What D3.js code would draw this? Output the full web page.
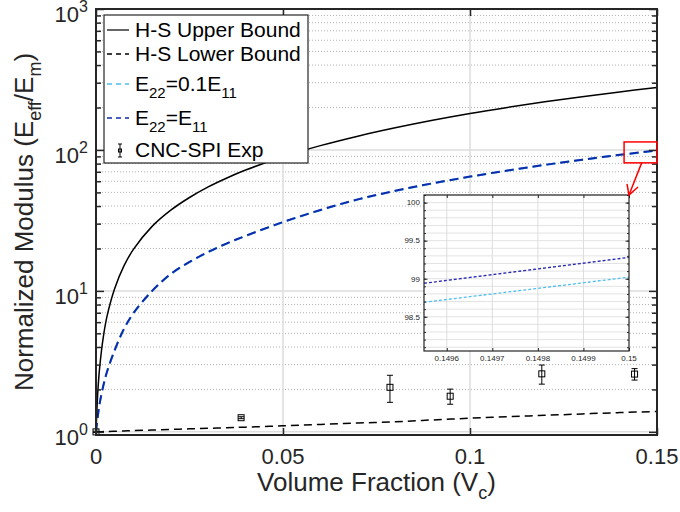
<!DOCTYPE html>
<html>
<head>
<meta charset="utf-8">
<script src="https://cdn.jsdelivr.net/npm/d3@7"></script>
<style>
  body { margin: 0; background: #fff; }
  svg { display: block; font-family: "Liberation Sans", Arial, sans-serif; }
</style>
</head>
<body>
<div id="chart"></div>
<script>
// model curves
const vcModel = [0, 0.0005, 0.001, 0.002, 0.003, 0.005, 0.0075, 0.01, 0.015, 0.02, 0.025, 0.03, 0.035, 0.04, 0.05, 0.06, 0.07, 0.08, 0.09, 0.10, 0.11, 0.12, 0.13, 0.14, 0.15];
const hsUpper = [1, 1.95, 2.9, 4.8, 6.7, 10.4, 15.1, 19.7, 28.7, 37.4, 46.0, 54.7, 63.3, 72.0, 89.5, 107.3, 125.3, 143.6, 162.4, 181.5, 200.4, 219.5, 238.8, 258.2, 277.8];
const hsLower = [1, 1.001, 1.002, 1.004, 1.006, 1.01, 1.015, 1.02, 1.03, 1.04, 1.05, 1.06, 1.07, 1.08, 1.105, 1.13, 1.155, 1.18, 1.215, 1.25, 1.28, 1.31, 1.34, 1.37, 1.395];
const e22Tenth = [1, 1.3, 1.6, 2.14, 2.69, 3.78, 5.37, 6.92, 9.96, 13.15, 16.0, 18.83, 21.65, 24.52, 30.7, 37.38, 44.47, 51.15, 57.83, 64.52, 71.3, 78.18, 85.06, 92.06, 99.02];
const e22Equal = [1, 1.3, 1.6, 2.15, 2.7, 3.8, 5.4, 6.95, 10.0, 13.2, 16.05, 18.9, 21.75, 24.6, 30.8, 37.5, 44.6, 51.3, 58.0, 64.7, 71.5, 78.4, 85.3, 92.3, 99.3];

// experiment
const expVc = [0, 0.0388, 0.0786, 0.0947, 0.1192, 0.144];
const expE = [1.0, 1.26, 2.07, 1.79, 2.58, 2.57];
const expErr = [0.01, 0.02, 0.45, 0.22, 0.40, 0.24];

// inset (zoom near vc = 0.15)
const insetVc = [0.14955, 0.15];
const insetEqual = [98.94, 99.28];
const insetTenth = [98.69, 99.02];
const insetXTicks = [0.1496, 0.1497, 0.1498, 0.1499, 0.15];
const insetYTicks = [98.5, 99, 99.5, 100];

// ticks
const xTicks = [0, 0.05, 0.1, 0.15];
const xTickLabels = ["0", "0.05", "0.1", "0.15"];
const yDecades = [1, 10, 100, 1000];
const yExponents = ["0", "1", "2", "3"];

// zoom box in data units
const zoomBoxVc = [0.1412, 0.15];
const zoomBoxE = [81, 114];

const axisColor = "#262626";
const colEqual = "#0d2bab";
const colTenth = "#4dbeee";

var width = 680, height = 512;
var plot = {left: 96, right: 657, top: 9, bottom: 435};

const svg = d3.select("#chart").append("svg")
    .attr("width", width)
    .attr("height", height);

var x = d3.scaleLinear().domain([0, 0.15]).range([plot.left, plot.right]);
var y = d3.scaleLog().domain([0.95, 1000]).range([plot.bottom, plot.top]);

svg.append("defs").append("clipPath").attr("id", "clipMain")
    .append("rect")
    .attr("x", plot.left).attr("y", plot.top)
    .attr("width", plot.right - plot.left).attr("height", plot.bottom - plot.top);

// minor values
var minorY = [];
[1, 10, 100].forEach(function(d) {
    for (let k = 2; k <= 9; k++) minorY.push(d * k);
});

// grid
var grid = svg.append("g");
grid.selectAll(".minor").data(minorY).enter().append("line")
    .attr("x1", plot.left).attr("x2", plot.right)
    .attr("y1", d => y(d)).attr("y2", d => y(d))
    .attr("stroke", "#b3b3b3").attr("stroke-width", 1)
    .attr("stroke-dasharray", "1,2");
grid.selectAll(".majorY").data([1, 10, 100]).enter().append("line")
    .attr("x1", plot.left).attr("x2", plot.right)
    .attr("y1", d => y(d)).attr("y2", d => y(d))
    .attr("stroke", "#dddddd").attr("stroke-width", 1.5);
grid.selectAll(".majorX").data([0.05, 0.1]).enter().append("line")
    .attr("x1", d => x(d)).attr("x2", d => x(d))
    .attr("y1", plot.top).attr("y2", plot.bottom)
    .attr("stroke", "#dddddd").attr("stroke-width", 1.5);

// curves
var line = d3.line()
    .x(d => x(d[0]))
    .y(d => y(d[1]))
    .curve(d3.curveCatmullRom.alpha(0.5));

var curves = svg.append("g").attr("clip-path", "url(#clipMain)");
curves.append("path")
    .attr("d", line(d3.zip(vcModel, hsLower)))
    .attr("fill", "none").attr("stroke", "#000").attr("stroke-width", 1.5)
    .attr("stroke-dasharray", "8,5");
curves.append("path")
    .attr("d", line(d3.zip(vcModel, e22Tenth)))
    .attr("fill", "none").attr("stroke", colTenth).attr("stroke-width", 2)
    .attr("stroke-dasharray", "9,5");
curves.append("path")
    .attr("d", line(d3.zip(vcModel, e22Equal)))
    .attr("fill", "none").attr("stroke", colEqual).attr("stroke-width", 2)
    .attr("stroke-dasharray", "9,5");
curves.append("path")
    .attr("d", line(d3.zip(vcModel, hsUpper)))
    .attr("fill", "none").attr("stroke", "#000").attr("stroke-width", 1.5);

// error bars
var expData = d3.zip(expVc, expE, expErr);
var eb = svg.append("g").selectAll("g").data(expData).enter().append("g");
eb.append("line")
    .attr("x1", d => x(d[0])).attr("x2", d => x(d[0]))
    .attr("y1", d => y(d[1] + d[2])).attr("y2", d => y(d[1] - d[2]))
    .attr("stroke", "#000").attr("stroke-width", 1);
eb.selectAll(".cap").data(d => [[d[0], d[1] + d[2]], [d[0], d[1] - d[2]]]).enter().append("line")
    .attr("x1", d => x(d[0]) - 3).attr("x2", d => x(d[0]) + 3)
    .attr("y1", d => y(d[1])).attr("y2", d => y(d[1]))
    .attr("stroke", "#000").attr("stroke-width", 1);
eb.append("rect")
    .attr("x", d => x(d[0]) - 3).attr("y", d => y(d[1]) - 3)
    .attr("width", 6).attr("height", 6)
    .attr("fill", "none").attr("stroke", "#000").attr("stroke-width", 1);

// axes box and ticks
var axes = svg.append("g");
axes.append("g").attr("transform", "translate(0," + plot.bottom + ")")
    .call(d3.axisBottom(x).tickValues(xTicks).tickSize(-7).tickFormat(""));
axes.append("g").attr("transform", "translate(0," + plot.top + ")")
    .call(d3.axisTop(x).tickValues(xTicks).tickSize(-7).tickFormat(""));
axes.append("g").attr("transform", "translate(" + plot.left + ",0)")
    .call(d3.axisLeft(y).tickValues(yDecades).tickSize(-8).tickFormat(""));
axes.append("g").attr("transform", "translate(" + plot.left + ",0)")
    .call(d3.axisLeft(y).tickValues(minorY).tickSize(-5).tickFormat(""));
axes.append("g").attr("transform", "translate(" + plot.right + ",0)")
    .call(d3.axisRight(y).tickValues(yDecades).tickSize(-8).tickFormat(""));
axes.append("g").attr("transform", "translate(" + plot.right + ",0)")
    .call(d3.axisRight(y).tickValues(minorY).tickSize(-5).tickFormat(""));
axes.selectAll(".domain").remove();
axes.selectAll(".tick line").attr("stroke", axisColor).attr("stroke-width", 1.5);
axes.append("rect")
    .attr("x", plot.left).attr("y", plot.top)
    .attr("width", plot.right - plot.left).attr("height", plot.bottom - plot.top)
    .attr("fill", "none").attr("stroke", axisColor).attr("stroke-width", 2);

// tick labels
svg.append("g").selectAll("text").data(xTicks).enter().append("text")
    .attr("x", d => x(d)).attr("y", 464)
    .attr("text-anchor", "middle")
    .attr("font-size", 22).attr("fill", axisColor)
    .text((d, i) => xTickLabels[i]);

var yl = svg.append("g").selectAll("text").data(yDecades).enter().append("text")
    .attr("x", 88).attr("y", d => y(d) + 13)
    .attr("text-anchor", "end")
    .attr("font-size", 22).attr("fill", axisColor);
yl.append("tspan").text("10");
yl.append("tspan").attr("dy", -10).attr("font-size", 16).text((d, i) => yExponents[i]);

// axis titles
var xt = svg.append("text")
    .attr("x", (plot.left + plot.right) / 2).attr("y", 491)
    .attr("text-anchor", "middle").attr("font-size", 26).attr("fill", axisColor);
xt.append("tspan").text("Volume Fraction (V");
xt.append("tspan").attr("dy", 8).attr("font-size", 18).text("c");
xt.append("tspan").attr("dy", -8).text(")");

var yt = svg.append("text")
    .attr("transform", "translate(33," + ((plot.top + plot.bottom) / 2) + ") rotate(-90)")
    .attr("text-anchor", "middle").attr("font-size", 26).attr("fill", axisColor);
yt.append("tspan").text("Normalized Modulus (E");
yt.append("tspan").attr("dy", 8).attr("font-size", 18).text("eff");
yt.append("tspan").attr("dy", -8).text("/E");
yt.append("tspan").attr("dy", 8).attr("font-size", 18).text("m");
yt.append("tspan").attr("dy", -8).text(")");

// legend
var lg = svg.append("g");
lg.append("rect").attr("x", 104).attr("y", 15).attr("width", 204).attr("height", 148)
    .attr("fill", "#fff").attr("stroke", axisColor).attr("stroke-width", 1.2);

var legendRows = [
    {y: 30, stroke: "#000", dash: null},
    {y: 54, stroke: "#000", dash: "5,4"},
    {y: 84, stroke: colTenth, dash: "5,4"},
    {y: 118, stroke: colEqual, dash: "5,4"}
];
legendRows.forEach(function(r) {
    lg.append("line").attr("x1", 107).attr("x2", 129).attr("y1", r.y).attr("y2", r.y)
        .attr("stroke", r.stroke).attr("stroke-width", r.dash ? 1.6 : 1.2)
        .attr("stroke-dasharray", r.dash);
});
lg.append("line").attr("x1", 120).attr("x2", 120).attr("y1", 144).attr("y2", 157).attr("stroke", "#000");
lg.append("line").attr("x1", 118).attr("x2", 122).attr("y1", 144).attr("y2", 144).attr("stroke", "#000");
lg.append("line").attr("x1", 118).attr("x2", 122).attr("y1", 157).attr("y2", 157).attr("stroke", "#000");
lg.append("rect").attr("x", 118.5).attr("y", 149).attr("width", 3).attr("height", 3)
    .attr("fill", "none").attr("stroke", "#000").attr("stroke-width", 1);

function legendText(yb) {
    return lg.append("text").attr("x", 135).attr("y", yb)
        .attr("font-size", 21).attr("fill", "#000");
}
legendText(37).text("H-S Upper Bound");
legendText(61).text("H-S Lower Bound");
var t3 = legendText(91);
t3.append("tspan").text("E");
t3.append("tspan").attr("dy", 7).attr("font-size", 15).text("22");
t3.append("tspan").attr("dy", -7).text("=0.1E");
t3.append("tspan").attr("dy", 7).attr("font-size", 15).text("11");
var t4 = legendText(125);
t4.append("tspan").text("E");
t4.append("tspan").attr("dy", 7).attr("font-size", 15).text("22");
t4.append("tspan").attr("dy", -7).text("=E");
t4.append("tspan").attr("dy", 7).attr("font-size", 15).text("11");
legendText(157).text("CNC-SPI Exp");

// zoom box + arrow
var red = "#ff0000";
svg.append("rect")
    .attr("x", x(zoomBoxVc[0])).attr("y", y(zoomBoxE[1]))
    .attr("width", x(zoomBoxVc[1]) - x(zoomBoxVc[0]))
    .attr("height", y(zoomBoxE[0]) - y(zoomBoxE[1]))
    .attr("fill", "none").attr("stroke", red).attr("stroke-width", 1.5);

// inset
var inset = {left: 424, right: 629, top: 195, bottom: 351};
var ix = d3.scaleLinear().domain([0.14955, 0.15]).range([inset.left, inset.right]);
var iy = d3.scaleLinear().domain([98.05, 100.1]).range([inset.bottom, inset.top]);

var ins = svg.append("g");
ins.append("rect").attr("x", inset.left).attr("y", inset.top)
    .attr("width", inset.right - inset.left).attr("height", inset.bottom - inset.top)
    .attr("fill", "#fff");
svg.select("defs").append("clipPath").attr("id", "clipInset")
    .append("rect").attr("x", inset.left).attr("y", inset.top)
    .attr("width", inset.right - inset.left).attr("height", inset.bottom - inset.top);

var insetMinor = d3.range(981, 1002).map(d => d / 10);
ins.selectAll(".ig").data(insetMinor).enter().append("line")
    .attr("x1", inset.left).attr("x2", inset.right)
    .attr("y1", d => iy(d)).attr("y2", d => iy(d))
    .attr("stroke", "#e3e3e3").attr("stroke-width", 1);
ins.selectAll(".ivg").data(insetXTicks.slice(0, 4)).enter().append("line")
    .attr("x1", d => ix(d)).attr("x2", d => ix(d))
    .attr("y1", inset.top).attr("y2", inset.bottom)
    .attr("stroke", "#dcdcdc").attr("stroke-width", 1);

var iline = d3.line().x(d => ix(d[0])).y(d => iy(d[1]));
var il = ins.append("g").attr("clip-path", "url(#clipInset)");
il.append("path").attr("d", iline(d3.zip(insetVc, insetTenth)))
    .attr("fill", "none").attr("stroke", colTenth).attr("stroke-width", 1.3)
    .attr("stroke-dasharray", "3,2");
il.append("path").attr("d", iline(d3.zip(insetVc, insetEqual)))
    .attr("fill", "none").attr("stroke", "#2a2ab2").attr("stroke-width", 1.3)
    .attr("stroke-dasharray", "3,2");

var iaxes = ins.append("g");
iaxes.append("g").attr("transform", "translate(0," + inset.bottom + ")")
    .call(d3.axisBottom(ix).tickValues(insetXTicks).tickSize(-3).tickFormat(""));
iaxes.append("g").attr("transform", "translate(0," + inset.top + ")")
    .call(d3.axisTop(ix).tickValues(insetXTicks).tickSize(-3).tickFormat(""));
iaxes.append("g").attr("transform", "translate(" + inset.left + ",0)")
    .call(d3.axisLeft(iy).tickValues(insetMinor).tickSize(-2).tickFormat(""));
iaxes.append("g").attr("transform", "translate(" + inset.right + ",0)")
    .call(d3.axisRight(iy).tickValues(insetMinor).tickSize(-2).tickFormat(""));
iaxes.append("g").attr("transform", "translate(" + inset.left + ",0)")
    .call(d3.axisLeft(iy).tickValues(insetYTicks).tickSize(-3.5).tickFormat(""));
iaxes.append("g").attr("transform", "translate(" + inset.right + ",0)")
    .call(d3.axisRight(iy).tickValues(insetYTicks).tickSize(-3.5).tickFormat(""));
iaxes.selectAll(".domain").remove();
iaxes.selectAll(".tick line").attr("stroke", axisColor).attr("stroke-width", 1);
iaxes.append("rect").attr("x", inset.left).attr("y", inset.top)
    .attr("width", inset.right - inset.left).attr("height", inset.bottom - inset.top)
    .attr("fill", "none").attr("stroke", axisColor).attr("stroke-width", 1.2);

ins.append("g").selectAll("text").data(insetXTicks).enter().append("text")
    .attr("x", d => ix(d)).attr("y", 361)
    .attr("text-anchor", "middle").attr("font-size", 8).attr("fill", axisColor)
    .text(d => d3.format(".4~f")(d));
ins.append("g").selectAll("text").data(insetYTicks).enter().append("text")
    .attr("x", 420).attr("y", d => iy(d)).attr("dy", "0.35em")
    .attr("text-anchor", "end").attr("font-size", 8).attr("fill", axisColor)
    .text(d => d3.format("~f")(d));

// arrow from zoom box to inset corner
var ax0 = x(0.1459), ay0 = y(zoomBoxE[0]);
var ax1 = inset.right, ay1 = inset.top;
svg.append("line").attr("x1", ax0).attr("y1", ay0).attr("x2", ax1).attr("y2", ay1)
    .attr("stroke", red).attr("stroke-width", 1.5);
svg.append("path")
    .attr("d", "M" + (ax1 - 2) + "," + (ay1 - 11) + "L" + ax1 + "," + ay1 + "L" + (ax1 + 9) + "," + (ay1 - 8))
    .attr("fill", "none").attr("stroke", red).attr("stroke-width", 1.5);
</script>
</body>
</html>
